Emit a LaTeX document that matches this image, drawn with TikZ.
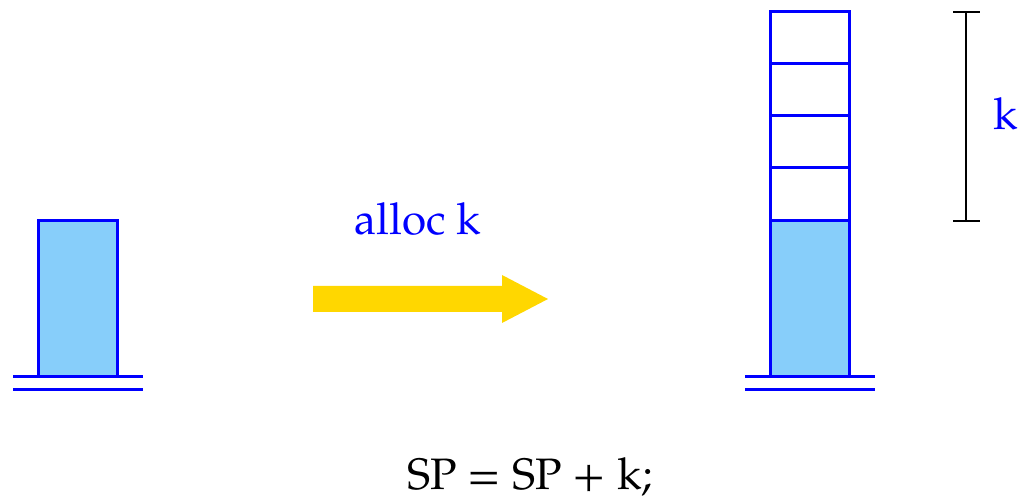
\documentclass[tikz,border=0pt]{standalone}
\usepackage{fontspec}
\setmainfont{TeX Gyre Pagella}
\definecolor{cellfill}{RGB}{135,206,250}
\definecolor{arrowgold}{RGB}{255,215,0}
\tikzset{
  cell/.style={draw=blue, line width=3pt},
  filledcell/.style={cell, fill=cellfill},
  ground/.style={draw=blue, line width=3pt},
  bracket/.style={draw=black, line width=2pt},
  bluelabel/.style={text=blue, font=\fontsize{44}{52}\selectfont, inner sep=0pt},
  blacklabel/.style={text=black, font=\fontsize{44}{52}\selectfont, inner sep=0pt},
}
\begin{document}
\begin{tikzpicture}[x=1pt,y=-1pt]
\useasboundingbox (0,0) rectangle (1021,502);
% left stack
\draw[filledcell] (38.5,221) rectangle (117,377);
\draw[ground] (13,377) -- (143,377);
\draw[ground] (13,390) -- (143,390);
% arrow
\fill[arrowgold] (313,286) -- (502,286) -- (502,275) -- (548,299) -- (502,323) -- (502,312) -- (313,312) -- cycle;
\node[bluelabel, anchor=base] (alloc) at (418,235) {alloc k};
% right stack
\draw[filledcell] (770,221) rectangle (849,377);
\draw[cell] (770,12) rectangle (849,221);
\draw[cell] (770,64) -- (849,64);
\draw[cell] (770,116) -- (849,116);
\draw[cell] (770,168) -- (849,168);
\draw[ground] (745,377) -- (875,377);
\draw[ground] (745,390) -- (875,390);
% bracket
\coordinate (btop) at (966,12);
\coordinate (bbot) at (966,221);
\draw[bracket] (btop) -- (bbot);
\draw[bracket] (953,12) -- (980,12);
\draw[bracket] (953,221) -- (980,221);
\node[bluelabel, anchor=base west] (klab) at (993,130) {k};
% code
\node[blacklabel, anchor=base] (code) at (530,490) {SP = SP + k;};
\end{tikzpicture}
\end{document}
